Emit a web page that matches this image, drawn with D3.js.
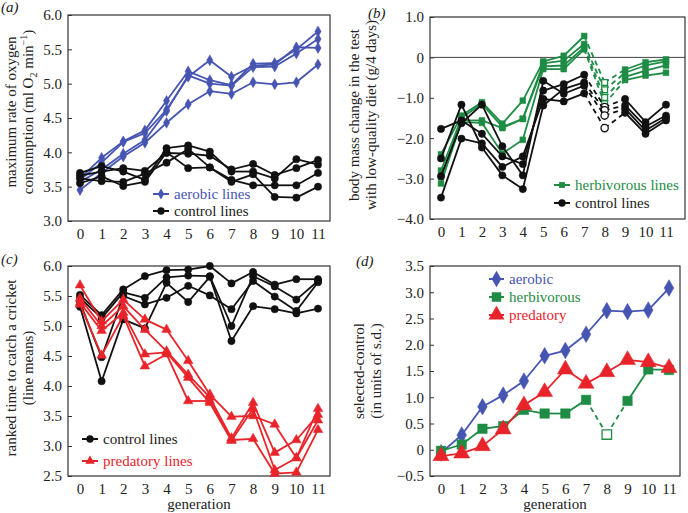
<!DOCTYPE html>
<html>
<head>
<meta charset="utf-8">
<script src="https://cdn.jsdelivr.net/npm/d3@7"></script>
<style>
  body { margin: 0; background: #fff; }
  text { font-family: "Liberation Serif", "DejaVu Serif", serif; }
</style>
</head>
<body>
<div id="chart"></div>
<script>
//------------------------------------------------------------------------ Data
var generations = [0, 1, 2, 3, 4, 5, 6, 7, 8, 9, 10, 11];

// (a) maximum rate of oxygen consumption
var aerobicLines = [
  [3.62, 3.92, 4.16, 4.32, 4.75, 5.18, 5.05, 4.98, 5.29, 5.30, 5.50, 5.76],
  [3.60, 3.85, 4.15, 4.28, 4.62, 5.10, 5.34, 5.10, 5.26, 5.28, 5.53, 5.52],
  [3.57, 3.75, 3.98, 4.18, 4.60, 5.12, 5.00, 4.97, 5.24, 5.25, 5.44, 5.65],
  [3.45, 3.70, 3.94, 4.14, 4.43, 4.70, 4.89, 4.85, 5.02, 4.99, 5.02, 5.28]
];
var controlA = [
  [3.70, 3.80, 3.72, 3.60, 4.06, 4.10, 4.01, 3.72, 3.72, 3.62, 3.90, 3.82],
  [3.66, 3.72, 3.77, 3.73, 3.99, 3.98, 3.95, 3.75, 3.83, 3.67, 3.77, 3.89],
  [3.62, 3.58, 3.57, 3.69, 3.85, 4.05, 3.78, 3.60, 3.52, 3.52, 3.52, 3.70],
  [3.55, 3.65, 3.51, 3.57, 4.00, 3.77, 3.78, 3.57, 3.68, 3.35, 3.34, 3.50]
];

// (b) body mass change with low-quality diet
var herbivorousLines = [
  [-2.40, -1.44, -1.11, -1.64, -1.07, -0.10, 0.04, 0.53, -0.62, -0.30, -0.12, -0.05],
  [-2.80, -1.50, -1.15, -1.72, -1.52, -0.15, -0.08, 0.33, -0.80, -0.38, -0.20, -0.10],
  [-2.96, -1.56, -1.56, -1.75, -1.52, -0.22, -0.20, 0.25, -0.99, -0.48, -0.33, -0.20],
  [-3.12, -1.60, -1.62, -2.38, -2.04, -0.29, -0.29, 0.20, -1.15, -0.56, -0.45, -0.38]
];
var controlB = [
  [-1.77, -1.56, -1.89, -2.45, -2.64, -0.82, -0.66, -0.43, -1.23, -1.03, -1.60, -1.17],
  [-2.50, -1.17, -2.23, -2.92, -3.26, -1.19, -0.78, -0.62, -1.31, -1.19, -1.71, -1.44],
  [-2.94, -1.63, -1.17, -2.20, -2.92, -0.58, -0.90, -0.70, -1.44, -1.27, -1.81, -1.50],
  [-3.47, -2.01, -2.13, -2.71, -2.45, -1.03, -1.09, -0.89, -1.75, -1.37, -1.89, -1.56]
];

// (c) ranked time to catch a cricket
var controlC = [
  [5.52, 5.18, 5.61, 5.83, 5.93, 5.94, 6.00, 5.71, 5.90, 5.69, 5.78, 5.78],
  [5.47, 5.13, 5.56, 5.47, 5.81, 5.84, 5.83, 5.00, 5.83, 5.66, 5.44, 5.75],
  [5.39, 4.48, 5.50, 5.36, 5.47, 5.67, 5.51, 5.28, 5.75, 5.49, 5.25, 5.73],
  [5.32, 4.08, 5.11, 4.96, 5.72, 5.40, 5.82, 4.75, 5.33, 5.28, 5.21, 5.29]
];
var predatoryLines = [
  [5.68, 5.08, 5.44, 5.11, 4.94, 4.42, 3.86, 3.49, 3.50, 3.36, 2.80, 3.62],
  [5.46, 5.00, 5.33, 4.94, 4.58, 4.19, 3.81, 3.13, 3.72, 2.89, 3.10, 3.52],
  [5.39, 4.92, 5.22, 4.53, 4.56, 4.14, 3.72, 3.09, 3.62, 2.60, 2.80, 3.43],
  [5.36, 4.51, 5.17, 4.33, 4.53, 3.75, 3.75, 3.10, 3.12, 2.54, 2.56, 3.27]
];

// (d) selected - control (s.d. units)
var aerobicSD     = [-0.06, 0.28, 0.82, 1.04, 1.31, 1.79, 1.89, 2.20, 2.65, 2.63, 2.66, 3.08];
var herbivorousSD = [-0.02, 0.10, 0.40, 0.45, 0.76, 0.69, 0.69, 0.95, 0.29, 0.93, 1.53, 1.52];
var predatorySD   = [-0.12, -0.07, 0.07, 0.39, 0.85, 1.10, 1.53, 1.26, 1.48, 1.71, 1.67, 1.56];

var ticksA = [3.0, 3.5, 4.0, 4.5, 5.0, 5.5, 6.0];
var ticksB = [-4.0, -3.0, -2.0, -1.0, 0, 1.0];
var ticksC = [2.5, 3.0, 3.5, 4.0, 4.5, 5.0, 5.5, 6.0];
var ticksD = [-0.5, 0, 0.5, 1.0, 1.5, 2.0, 2.5, 3.0, 3.5];

//------------------------------------------------------------------------ Styles
var colBlue = "#4654b2",
    colGreen = "#1f8c45",
    colRed = "#e8242a",
    colBlack = "#111";

var svg = d3.select("#chart").append("svg")
  .attr("width", 688)
  .attr("height", 513);

var fmt = function(d){ return d === 0 ? "0" : d3.format(".1f")(d); };

//------------------------------------------------------------------------ Functions
//set up one panel: box, axes, scales
function makePanel(o){
  var g = svg.append("g");
  var x = d3.scaleLinear().domain([0, 11]).range(o.xr);
  var y = d3.scaleLinear().domain(o.yd).range([o.bottom, o.top]);

  g.append("g")
    .attr("transform", "translate(" + o.left + ",0)")
    .call(d3.axisLeft(y).tickValues(o.ticks).tickFormat(fmt).tickSizeInner(-4).tickSizeOuter(0).tickPadding(6))
    .call(function(a){ a.select(".domain").remove(); })
    .call(function(a){ a.selectAll("text").attr("font-size", 15).attr("fill", "#222"); a.selectAll("line").attr("stroke", "#333"); });

  g.append("g")
    .attr("transform", "translate(0," + o.bottom + ")")
    .call(d3.axisBottom(x).tickValues(generations).tickSize(0).tickPadding(7))
    .call(function(a){ a.select(".domain").remove(); })
    .call(function(a){ a.selectAll("text").attr("font-size", 15).attr("fill", "#222"); });

  if (o.zero) {
    g.append("line")
      .attr("x1", o.left).attr("x2", o.right)
      .attr("y1", y(0)).attr("y2", y(0))
      .attr("stroke", "#444").attr("stroke-width", 1);
  }

  g.append("rect")
    .attr("x", o.left).attr("y", o.top)
    .attr("width", o.right - o.left).attr("height", o.bottom - o.top)
    .attr("fill", "none").attr("stroke", "#333").attr("stroke-width", 1.2);

  //y label, two lines
  o.ylab.forEach(function(l, i){
    var t = g.append("text")
      .attr("transform", "translate(" + (o.ylabX + 17 * i) + "," + o.ylabY + ") rotate(-90)")
      .attr("text-anchor", "middle")
      .attr("font-size", 15)
      .attr("fill", "#222");
    l.forEach(function(p){
      var s = t.append("tspan").text(p.t);
      if (p.sub) s.attr("font-size", 10).attr("dy", 4);
      if (p.sup) s.attr("font-size", 10).attr("dy", p.dy);
      if (p.back) s.attr("dy", p.back);
    });
  });

  g.append("text")
    .attr("x", o.labX).attr("y", o.labY)
    .attr("font-size", 15).attr("font-style", "italic").attr("fill", "#222")
    .text(o.label);

  if (o.gen) {
    g.append("text")
      .attr("x", (o.left + o.right) / 2).attr("y", o.bottom + 33)
      .attr("text-anchor", "middle").attr("font-size", 15).attr("fill", "#222")
      .text("generation");
  }

  return {g: g, x: x, y: y};
}

//marker path generator
function marker(shape, size){
  var sym = {diamond: d3.symbolDiamond, circle: d3.symbolCircle, square: d3.symbolSquare, triangle: d3.symbolTriangle}[shape];
  return d3.symbol().type(sym).size(size)();
}

//draw one series; segments touching a "dashed" generation are dashed and that marker is open
function drawSeries(p, values, col, shape, size, lw, dashedGen){
  var line = d3.line().x(function(d){ return p.x(d[0]); }).y(function(d){ return p.y(d[1]); });
  var pts = values.map(function(v, i){ return [generations[i], v]; });
  for (var i = 0; i < pts.length - 1; ++i) {
    var dashed = dashedGen !== undefined && (pts[i][0] === dashedGen || pts[i + 1][0] === dashedGen);
    p.g.append("path")
      .attr("d", line([pts[i], pts[i + 1]]))
      .attr("fill", "none").attr("stroke", col).attr("stroke-width", lw)
      .attr("stroke-dasharray", dashed ? "5,4" : null);
  }
  p.g.selectAll(null).data(pts).enter().append("path")
    .attr("d", marker(shape, size))
    .attr("transform", function(d){ return "translate(" + p.x(d[0]) + "," + p.y(d[1]) + ")"; })
    .attr("fill", function(d){ return d[0] === dashedGen ? "#fff" : col; })
    .attr("stroke", col)
    .attr("stroke-width", function(d){ return d[0] === dashedGen ? 1.3 : 0.5; });
}

function legend(p, items, lx, ly, dy, w){
  items.forEach(function(it, i){
    var yy = ly + dy * i;
    p.g.append("line").attr("x1", lx).attr("x2", lx + w).attr("y1", yy).attr("y2", yy)
      .attr("stroke", it.col).attr("stroke-width", it.lw);
    p.g.append("path").attr("d", marker(it.shape, it.size))
      .attr("transform", "translate(" + (lx + w / 2) + "," + yy + ")")
      .attr("fill", it.col);
    p.g.append("text").attr("x", lx + w + 5).attr("y", yy + 5)
      .attr("font-size", 15).attr("fill", it.col === colBlack ? "#222" : it.col)
      .text(it.name);
  });
}

//------------------------------------------------------------------------ Panel (a)
var pa = makePanel({
  left: 68, right: 330, top: 15, bottom: 221, xr: [80, 318], yd: [3, 6], ticks: ticksA,
  ylabX: 16, ylabY: 112, label: "(a)", labX: 1, labY: 12,
  ylab: [[{t: "maximum rate of oxygen"}],
         [{t: "consumption (ml O"}, {t: "2", sub: true}, {t: " min", back: -4}, {t: "\u22121", sup: true, dy: -6}, {t: ")", back: 6}]]
});
aerobicLines.forEach(function(s){ drawSeries(pa, s, colBlue, "diamond", 34, 1.8); });
controlA.forEach(function(s){ drawSeries(pa, s, colBlack, "circle", 42, 1.8); });
legend(pa, [
  {name: "aerobic lines", col: colBlue, shape: "diamond", size: 34, lw: 2},
  {name: "control lines", col: colBlack, shape: "circle", size: 42, lw: 2}
], 153, 194, 17, 16);

//------------------------------------------------------------------------ Panel (b)
var pb = makePanel({
  left: 430, right: 685, top: 17, bottom: 219, xr: [441, 666], yd: [-4, 1], ticks: ticksB, zero: true,
  ylabX: 359, ylabY: 115, label: "(b)", labX: 368, labY: 18,
  ylab: [[{t: "body mass change in the test"}], [{t: "with low-quality diet (g/4 days)"}]]
});
herbivorousLines.forEach(function(s){ drawSeries(pb, s, colGreen, "square", 34, 1.8, 8); });
controlB.forEach(function(s){ drawSeries(pb, s, colBlack, "circle", 42, 1.8, 8); });
legend(pb, [
  {name: "herbivorous lines", col: colGreen, shape: "square", size: 34, lw: 2},
  {name: "control lines", col: colBlack, shape: "circle", size: 42, lw: 2}
], 554, 185, 18, 16);

//------------------------------------------------------------------------ Panel (c)
var pc = makePanel({
  left: 68, right: 330, top: 266, bottom: 476, xr: [80, 318], yd: [2.5, 6], ticks: ticksC,
  ylabX: 16, ylabY: 368, label: "(c)", labX: 1, labY: 264, gen: true,
  ylab: [[{t: "ranked time to catch a cricket"}], [{t: "(line means)"}]]
});
controlC.forEach(function(s){ drawSeries(pc, s, colBlack, "circle", 42, 1.8); });
predatoryLines.forEach(function(s){ drawSeries(pc, s, colRed, "triangle", 40, 1.8); });
legend(pc, [
  {name: "control lines", col: colBlack, shape: "circle", size: 42, lw: 2},
  {name: "predatory lines", col: colRed, shape: "triangle", size: 40, lw: 2}
], 82, 439, 22, 16);

//------------------------------------------------------------------------ Panel (d)
var pd = makePanel({
  left: 430, right: 680, top: 266, bottom: 476, xr: [441, 669], yd: [-0.5, 3.5], ticks: ticksD,
  ylabX: 364, ylabY: 371, label: "(d)", labX: 356, labY: 266, gen: true,
  ylab: [[{t: "selected-control"}], [{t: "(in units of s.d.)"}]]
});
drawSeries(pd, aerobicSD, colBlue, "diamond", 80, 1.8);
drawSeries(pd, herbivorousSD, colGreen, "square", 90, 1.8, 8);
drawSeries(pd, predatorySD, colRed, "triangle", 110, 1.8);
legend(pd, [
  {name: "aerobic", col: colBlue, shape: "diamond", size: 80, lw: 2},
  {name: "herbivorous", col: colGreen, shape: "square", size: 90, lw: 2},
  {name: "predatory", col: colRed, shape: "triangle", size: 110, lw: 2}
], 489, 279, 18, 15);
</script>
</body>
</html>
